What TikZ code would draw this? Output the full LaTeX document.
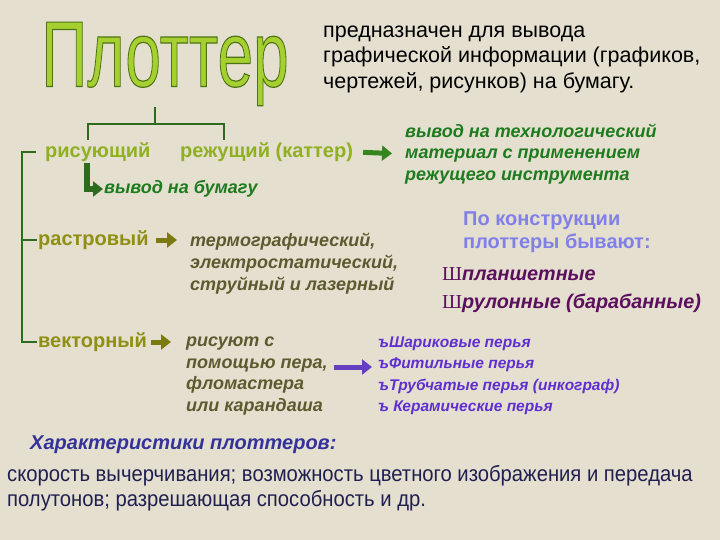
\documentclass[tikz,border=0pt]{standalone}
\usepackage{fontspec}
\usepackage{graphicx}
\setmainfont{Liberation Sans}
\newfontfamily\narrowfont[FakeStretch=0.92]{Liberation Sans}
\newfontfamily\seriffont{Liberation Serif}
\usetikzlibrary{arrows.meta}

\definecolor{paper}{HTML}{E5DFD0}
\definecolor{titlegreen}{HTML}{A5D030}
\definecolor{treegreen}{HTML}{2E6B1E}
\definecolor{kindgreen}{HTML}{8FB020}
\definecolor{deepgreen}{HTML}{1E7B1E}
\definecolor{olive}{HTML}{8F8F14}
\definecolor{darkolive}{HTML}{5C5A2E}
\definecolor{lavender}{HTML}{8080E8}
\definecolor{plum}{HTML}{5C0F5C}
\definecolor{violet}{HTML}{5F2FD0}
\definecolor{headblue}{HTML}{333399}
\definecolor{bodyblue}{HTML}{202050}

\newcommand{\outlinetext}[1]{\special{pdf:literal direct 0.3 0.45 0.08 RG 0.8 w 2 Tr}#1\special{pdf:literal direct 0 Tr}}

\begin{document}
\begin{tikzpicture}[x=1pt,y=-1pt,
  every node/.style={inner sep=1pt},
  tree/.style={draw=treegreen,line width=1.6pt},
  kind/.style={font=\fontsize{20}{23}\selectfont\bfseries,anchor=west},
  note/.style={font=\fontsize{18}{21.5}\selectfont\bfseries\itshape,anchor=west,align=left},
  blockarrow/.style={line width=5pt,-{Triangle[length=10pt,width=15pt]}}]
	\fill[paper] (0,0) rectangle (720,540);
	\useasboundingbox (0,0) rectangle (720,540);
	%
	\node[text=titlegreen] (title) at (165,64) {\scalebox{1}[1.46]{\fontsize{64}{64}\selectfont\outlinetext{Плоттер}}};
	\node[anchor=west,align=left,font=\fontsize{21.5}{25.5}\selectfont] (def) at (322,59)
		{предназначен для вывода\\графической информации (графиков,\\чертежей, рисунков) на бумагу.};
	%
	\node[kind,text=kindgreen] (ris) at (44,152) {рисующий};
	\node[kind,text=kindgreen] (cut) at (179,152) {режущий (каттер)};
	\node[note,text=deepgreen] (out) at (103,189) {вывод на бумагу};
	\node[note,text=deepgreen] (tech) at (404,154)
		{вывод на технологический\\материал с применением\\режущего инструмента};
	%
	\node[kind,text=olive] (ras) at (37,240) {растровый};
	\node[kind,text=olive] (vec) at (37,342) {векторный};
	\node[note,font=\fontsize{18}{22}\selectfont\bfseries\itshape,text=darkolive] (thermo) at (189,264)
		{термографический,\\электростатический,\\струйный и лазерный};
	\node[note,text=darkolive] (pen) at (185,376)
		{рисуют с\\помощью пера,\\фломастера\\или карандаша};
	\node[note,font=\fontsize{15.5}{21.5}\selectfont\bfseries\itshape,text=violet] (pens) at (377,376)
		{ъШариковые перья\\ъФитильные перья\\ъТрубчатые перья (инкограф)\\ъ Керамические перья};
	%
	\node[anchor=west,align=left,font=\fontsize{20}{23}\selectfont\bfseries,text=lavender] (build) at (462,232)
		{По конструкции\\плоттеры бывают:};
	\node[anchor=west,align=left,font=\fontsize{19.8}{28}\selectfont\bfseries\itshape,text=plum] (types) at (441,290)
		{{\seriffont\upshape\mdseries Ш}планшетные\\{\seriffont\upshape\mdseries Ш}рулонные (барабанные)};
	%
	\node[anchor=west,font=\fontsize{20}{23}\selectfont\bfseries\itshape,text=headblue] (feat) at (29,445) {Характеристики плоттеров:};
	\node[anchor=west,align=left,font=\narrowfont\fontsize{22}{25}\selectfont,text=bodyblue] (featlist) at (6,488)
		{скорость вычерчивания; возможность цветного изображения и передача\\полутонов; разрешающая способность и др.};
	%
	\coordinate (fork) at (155,124);
	\coordinate (rtop) at (88,140);
	\coordinate (ctop) at (224,140);
	\coordinate (brk) at (22,152);
	\draw[tree] (title.south -| fork) -- (fork);
	\draw[tree] (rtop) |- (fork) -| (ctop);
	\draw[tree] ([xshift=-8pt]ris.west) -- (brk) -- (brk |- vec.west) -- (vec.west);
	\draw[tree] (brk |- ras.west) -- (ras.west);
	%
	\draw[blockarrow,draw=treegreen,line width=6pt] ([xshift=-11pt]ris.south) |- (out.west);
	\draw[blockarrow,draw=deepgreen!80!kindgreen,shorten <=9pt,shorten >=12pt] (cut.east) -- (tech.west);
	\draw[blockarrow,draw=olive!85!black,shorten <=6pt,shorten >=12pt] (ras.east) -- (ras.east -| thermo.west);
	\draw[blockarrow,draw=olive!85!black,shorten <=3pt,shorten >=14pt] (vec.east) -- (vec.east -| pen.west);
	\draw[blockarrow,draw=violet!80!gray,shorten <=5pt,shorten >=5pt] ([yshift=9pt]pen.east) -- ([yshift=9pt]pens.west);
\end{tikzpicture}
\end{document}
